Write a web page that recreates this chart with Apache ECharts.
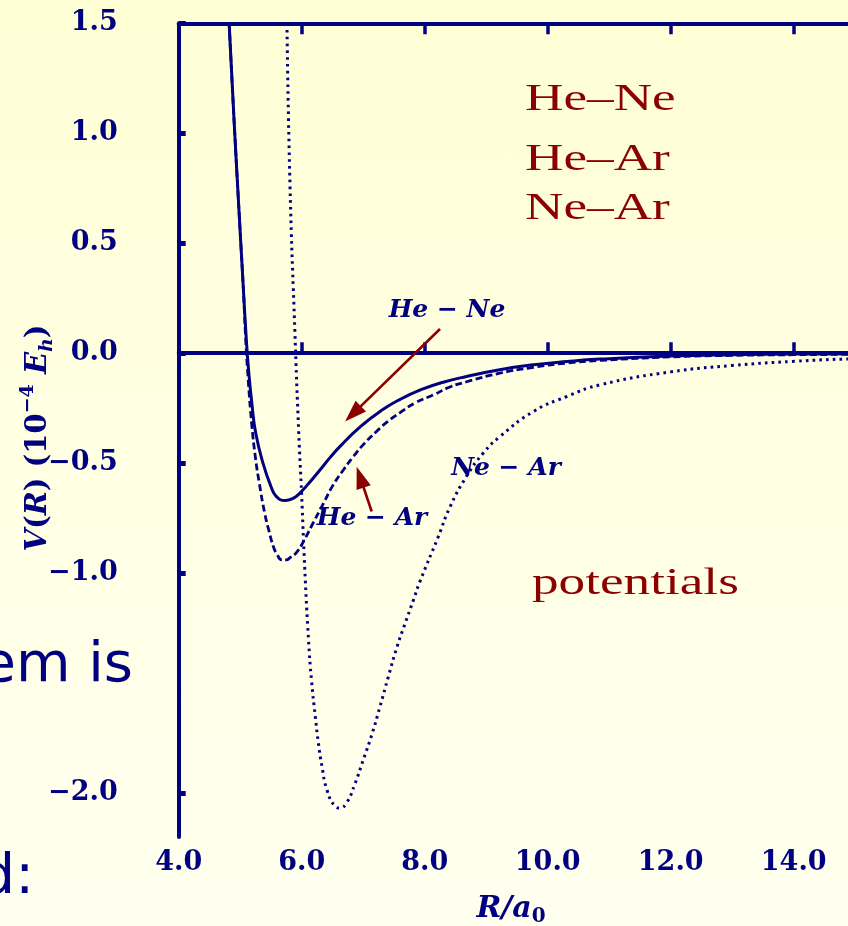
<!DOCTYPE html>
<html>
<head>
<meta charset="utf-8">
<script src="https://cdn.jsdelivr.net/npm/echarts@6/dist/echarts.min.js"></script>
<style>
  html, body { margin: 0; padding: 0; }
  body { width: 848px; height: 926px; overflow: hidden;
         background: linear-gradient(to bottom, #fefed5 0%, #ffffe3 50%, #fffff0 100%); }
  #chart { width: 848px; height: 926px; }
</style>
</head>
<body>
<div id="chart"></div>
<script>
// Interatomic potentials V(R) in units of 1e-4 Hartree, R in Bohr
const R_HE_NE = [4.82, 4.90, 4.98, 5.05, 5.10, 5.14, 5.19, 5.25, 5.37, 5.50, 5.59, 5.73, 5.86, 5.97, 6.12, 6.30, 6.46, 6.62, 6.95, 7.30, 7.60, 7.95, 8.30, 8.68, 9.22, 9.77, 10.31, 10.85, 12.0, 13.0, 14.0, 15.0, 16.0];
const V_HE_NE = [1.50, 1.06, 0.65, 0.30, 0.06, -0.09, -0.23, -0.36, -0.50, -0.606, -0.652, -0.67, -0.66, -0.636, -0.59, -0.53, -0.475, -0.425, -0.335, -0.26, -0.21, -0.165, -0.132, -0.106, -0.075, -0.053, -0.038, -0.027, -0.013, -0.007, -0.004, -0.003, -0.002];

const R_HE_AR = [4.82, 4.90, 4.98, 5.05, 5.09, 5.13, 5.19, 5.25, 5.31, 5.40, 5.47, 5.54, 5.60, 5.675, 5.75, 5.81, 5.92, 6.05, 6.19, 6.35, 6.51, 6.68, 6.84, 7.02, 7.22, 7.40, 7.60, 7.85, 8.14, 8.40, 8.68, 9.22, 9.77, 10.31, 10.85, 12.0, 13.0, 14.0, 15.0, 16.0];
const V_HE_AR = [1.50, 1.06, 0.65, 0.30, 0.06, -0.12, -0.33, -0.48, -0.59, -0.73, -0.81, -0.88, -0.915, -0.94, -0.94, -0.93, -0.905, -0.845, -0.77, -0.685, -0.60, -0.53, -0.47, -0.41, -0.355, -0.31, -0.27, -0.225, -0.19, -0.155, -0.13, -0.091, -0.064, -0.045, -0.033, -0.017, -0.010, -0.007, -0.005, -0.003];

const R_NE_AR = [5.76, 5.81, 5.89, 5.95, 6.00, 6.05, 6.11, 6.16, 6.22, 6.27, 6.33, 6.41, 6.54, 6.62, 6.73, 6.87, 7.00, 7.14, 7.27, 7.41, 7.55, 7.68, 7.82, 7.92, 8.22, 8.41, 8.68, 8.95, 9.22, 9.77, 10.31, 10.85, 12.0, 13.0, 14.0, 15.0, 16.0];
const V_NE_AR = [1.50, 0.76, 0.09, -0.35, -0.65, -0.98, -1.30, -1.49, -1.65, -1.77, -1.88, -1.985, -2.06, -2.068, -2.045, -1.955, -1.85, -1.735, -1.61, -1.47, -1.335, -1.23, -1.12, -1.04, -0.835, -0.70, -0.56, -0.455, -0.38, -0.265, -0.197, -0.144, -0.085, -0.056, -0.037, -0.025, -0.017];

// Axis ticks and labels
const X_TICKS = [4, 6, 8, 10, 12, 14, 16];
const X_LABELS = [4, 6, 8, 10, 12, 14];
const Y_TICKS = [1.5, 1.0, 0.5, 0.0, -0.5, -1.0, -2.0];

// Arrow annotations: [start, head] in (R, V)
const ARROW_HE_NE = [[8.249, 0.110], [6.833, -0.276]];
const ARROW_HE_AR = [[7.138, -0.720], [6.951, -0.564]];

const NAVY = '#000080';
const DARK_RED = '#8b0000';

const zip = (xs, ys) => xs.map((x, i) => [x, ys[i]]);
const fmt = v => (v < 0 ? '\u2212' : '') + Math.abs(v).toFixed(1);

const tickFont = { fontFamily: 'DejaVu Serif', fontWeight: 'bold', fontSize: 27, color: NAVY };

const chart = echarts.init(document.getElementById('chart'), null, { renderer: 'canvas' });

const arrowLine = (seg) => [
  { coord: seg[0], symbol: 'none' },
  { coord: seg[1], symbol: 'triangle', symbolSize: [15, 22] }
];

chart.setOption({
  backgroundColor: 'transparent',
  animation: false,
  grid: { left: 178.7, top: 23.3, width: 738, height: 813.7, containLabel: false, outerBoundsMode: 'none' },
  xAxis: [
    {
      type: 'value', min: 4, max: 16, position: 'bottom',
      axisLine: { show: true, lineStyle: { color: NAVY, width: 4 } },
      axisTick: { show: true, inside: true, length: 11, lineStyle: { color: NAVY, width: 3.5 }, customValues: X_TICKS },
      axisLabel: Object.assign({ show: true, margin: 12, customValues: X_LABELS, formatter: fmt }, tickFont),
      splitLine: { show: false }
    },
    {
      type: 'value', min: 4, max: 16, position: 'top',
      axisLine: { show: true, lineStyle: { color: NAVY, width: 4 } },
      axisTick: { show: true, inside: true, length: 11, lineStyle: { color: NAVY, width: 3.5 }, customValues: X_TICKS },
      axisLabel: { show: false },
      splitLine: { show: false }
    }
  ],
  yAxis: {
    type: 'value', min: -2.2, max: 1.5,
    axisLine: { show: true, onZero: false, lineStyle: { color: NAVY, width: 4 } },
    axisTick: { show: true, inside: true, length: 7, lineStyle: { color: NAVY, width: 5 }, customValues: Y_TICKS },
    axisLabel: Object.assign({ show: true, margin: 61, customValues: Y_TICKS, formatter: fmt }, tickFont),
    splitLine: { show: false }
  },
  series: [
    {
      name: 'He-Ne', type: 'line', xAxisIndex: 0, data: zip(R_HE_NE, V_HE_NE),
      smooth: 0.5, showSymbol: false, symbol: 'none',
      lineStyle: { color: NAVY, width: 3 },
      markLine: {
        silent: true, symbol: 'none', label: { show: false },
        lineStyle: { color: NAVY, width: 1.7, type: 'solid' },
        data: [{ yAxis: 0 }]
      }
    },
    {
      name: 'He-Ar', type: 'line', xAxisIndex: 0, data: zip(R_HE_AR, V_HE_AR),
      smooth: 0.5, showSymbol: false, symbol: 'none',
      lineStyle: { color: NAVY, width: 2.8, type: [7, 3.5] }
    },
    {
      name: 'Ne-Ar', type: 'line', xAxisIndex: 0, data: zip(R_NE_AR, V_NE_AR),
      smooth: 0.5, showSymbol: false, symbol: 'none',
      lineStyle: { color: NAVY, width: 3, type: [2.6, 4.2] },
      markLine: {
        silent: true, label: { show: false },
        lineStyle: { color: DARK_RED, width: 2.6, type: 'solid' },
        itemStyle: { color: DARK_RED },
        data: [arrowLine(ARROW_HE_NE), arrowLine(ARROW_HE_AR)]
      }
    }
  ],
  graphic: {
    elements: [
      // pair names, upper right
      { type: 'text', x: 525, y: 100, scaleX: 1.4, style: { text: 'He\u2013Ne', fill: DARK_RED, font: '38px "Liberation Serif"', textAlign: 'left', textVerticalAlign: 'middle' } },
      { type: 'text', x: 525, y: 160, scaleX: 1.4, style: { text: 'He\u2013Ar', fill: DARK_RED, font: '38px "Liberation Serif"', textAlign: 'left', textVerticalAlign: 'middle' } },
      { type: 'text', x: 525, y: 209, scaleX: 1.4, style: { text: 'Ne\u2013Ar', fill: DARK_RED, font: '38px "Liberation Serif"', textAlign: 'left', textVerticalAlign: 'middle' } },
      { type: 'text', x: 532, y: 584, scaleX: 1.4, style: { text: 'potentials', fill: DARK_RED, font: '38px "Liberation Serif"', textAlign: 'left', textVerticalAlign: 'middle' } },
      // curve labels
      { type: 'text', x: 447, y: 310, style: { text: 'He \u2212 Ne', fill: NAVY, font: 'italic bold 25px "DejaVu Serif"', textAlign: 'center', textVerticalAlign: 'middle' } },
      { type: 'text', x: 372, y: 518, style: { text: 'He \u2212 Ar', fill: NAVY, font: 'italic bold 25px "DejaVu Serif"', textAlign: 'center', textVerticalAlign: 'middle' } },
      { type: 'text', x: 506, y: 468, style: { text: 'Ne \u2212 Ar', fill: NAVY, font: 'italic bold 25px "DejaVu Serif"', textAlign: 'center', textVerticalAlign: 'middle' } },
      // axis names
      {
        type: 'text', x: 38, y: 438, rotation: Math.PI / 2,
        style: {
          text: '{i|V}{n|(}{i|R}{n|) (10}{sup|\u22124}{i| E}{sub|h}{n|)}',
          textAlign: 'center', textVerticalAlign: 'middle', fill: NAVY,
          rich: {
            i: { fontFamily: 'DejaVu Serif', fontStyle: 'italic', fontWeight: 'bold', fontSize: 29, lineHeight: 38, verticalAlign: 'middle', fill: NAVY },
            n: { fontFamily: 'DejaVu Serif', fontWeight: 'bold', fontSize: 29, lineHeight: 38, verticalAlign: 'middle', fill: NAVY },
            sup: { fontFamily: 'DejaVu Serif', fontWeight: 'bold', fontSize: 19, lineHeight: 20, verticalAlign: 'top', fill: NAVY },
            sub: { fontFamily: 'DejaVu Serif', fontStyle: 'italic', fontWeight: 'bold', fontSize: 19, lineHeight: 20, verticalAlign: 'bottom', fill: NAVY }
          }
        }
      },
      {
        type: 'text', x: 511, y: 909,
        style: {
          text: '{i|R/a}{sub|0}',
          textAlign: 'center', textVerticalAlign: 'middle', fill: NAVY,
          rich: {
            i: { fontFamily: 'DejaVu Serif', fontStyle: 'italic', fontWeight: 'bold', fontSize: 30, lineHeight: 36, verticalAlign: 'middle', fill: NAVY },
            sub: { fontFamily: 'DejaVu Serif', fontWeight: 'bold', fontSize: 20, lineHeight: 22, verticalAlign: 'bottom', fill: NAVY }
          }
        }
      },
      // slide text at the left edge
      { type: 'text', x: 133, y: 666, style: { text: 'em is', fill: NAVY, font: '56px "DejaVu Sans"', textAlign: 'right', textVerticalAlign: 'middle' } },
      { type: 'text', x: 34, y: 878, style: { text: 'd:', fill: NAVY, font: '56px "DejaVu Sans"', textAlign: 'right', textVerticalAlign: 'middle' } }
    ]
  }
});
</script>
</body>
</html>
